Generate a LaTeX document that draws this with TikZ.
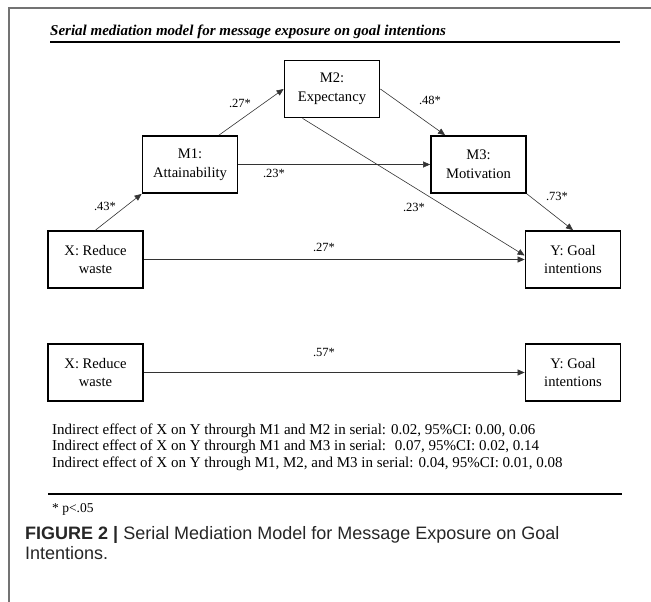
\documentclass[tikz,border=0pt]{standalone}
\usepackage{fontspec}
\setmainfont{Liberation Serif}
\newfontfamily\capfont{Liberation Sans}
\usetikzlibrary{arrows.meta,calc,positioning}

\begin{document}
\begin{tikzpicture}[
  x=1pt, y=-1pt,
  varbox/.style={
    draw,
    line width=1.8pt,
    minimum width=95pt,
    minimum height=57pt,
    inner sep=0pt,
    align=center,
    font=\fontsize{14.6}{18.7}\selectfont
    },
  effect/.style={
    draw=black!80,
    line width=0.6pt,
    -{Triangle[length=7pt,width=6pt]}
    },
  coef/.style={font=\fontsize{12.5}{15}\selectfont, inner sep=0pt},
  note/.style={anchor=base west, inner sep=0pt, font=\fontsize{15}{17}\selectfont}
]
\useasboundingbox (0,0) rectangle (651,602);
\draw[black!55, line width=1.4pt] (651,8) -- (9,8) -- (9,602);

% heading
\node[anchor=base west, inner sep=0pt, font=\bfseries\itshape\fontsize{15}{17}\selectfont]
  (title) at (50,36) {Serial mediation model for message exposure on goal intentions};
\draw[line width=1.5pt] (50,42) -- (620,42);

% serial model
\node[varbox] (X)  at (95.5,259.5) {X: Reduce\\waste};
\node[varbox] (M1) at (190,164.5)  {M1:\\Attainability};
\node[varbox] (M2) at (332,89)     {M2:\\Expectancy};
\node[varbox] (M3) at (478.5,164.5) {M3:\\Motivation};
\node[varbox] (Y)  at (573,259.5)  {Y: Goal\\intentions};

\draw[effect] (X.north) -- (M1.south west);
\draw[effect] ($(M1.north)+(29,0)$) -- (M2.west);
\draw[effect] (M1.east) -- (M3.west);
\draw[effect] (M2.east) -- ($(M3.north west)+(15,0)$);
\draw[effect] ($(M2.south west)+(19,0)$) -- ($(Y.west)+(0,-4)$);
\draw[effect] (M3.south east) -- (Y.north);
\draw[effect] (X.east) -- (Y.west);

\node[coef] (b-xm1)  at (105,206) {.43*};
\node[coef] (b-m1m2) at (240,103) {.27*};
\node[coef] (b-m2m3) at (430,100) {.48*};
\node[coef] (b-m1m3) at (274,173) {.23*};
\node[coef] (b-m2y)  at (414,207) {.23*};
\node[coef] (b-m3y)  at (557,196) {.73*};
\node[coef] (b-xy)   at (324,247) {.27*};

% total effect
\node[varbox] (X2) at (95.5,372.5) {X: Reduce\\waste};
\node[varbox] (Y2) at (573,372.5)  {Y: Goal\\intentions};
\draw[effect] (X2.east) -- (Y2.west);
\node[coef] (c-xy) at (324,352) {.57*};

% indirect effects
\node[note] (ind1) at (52,434) {Indirect effect of X on Y throurgh M1 and M2 in serial: 0.02, 95\%CI: 0.00, 0.06};
\node[note] (ind2) at (52,450.5) {Indirect effect of X on Y throurgh M1 and M3 in serial: \ 0.07, 95\%CI: 0.02, 0.14};
\node[note] (ind3) at (52,467) {Indirect effect of X on Y through M1, M2, and M3 in serial: 0.04, 95\%CI: 0.01, 0.08};

\draw[line width=1.6pt] (48,494) -- (622,494);
\node[note, font=\fontsize{13.5}{15}\selectfont] (sig) at (52,512) {* p<.05};

% caption
\node[anchor=base west, inner sep=0pt, text=black!85,
  font=\capfont\fontsize{18}{20}\selectfont] (cap) at (25,539)
  {\textbf{FIGURE 2 |} Serial Mediation Model for Message Exposure on Goal};
\node[anchor=base west, inner sep=0pt, text=black!85,
  font=\capfont\fontsize{18}{20}\selectfont] (cap2) at (25,559) {Intentions.};
\end{tikzpicture}
\end{document}
